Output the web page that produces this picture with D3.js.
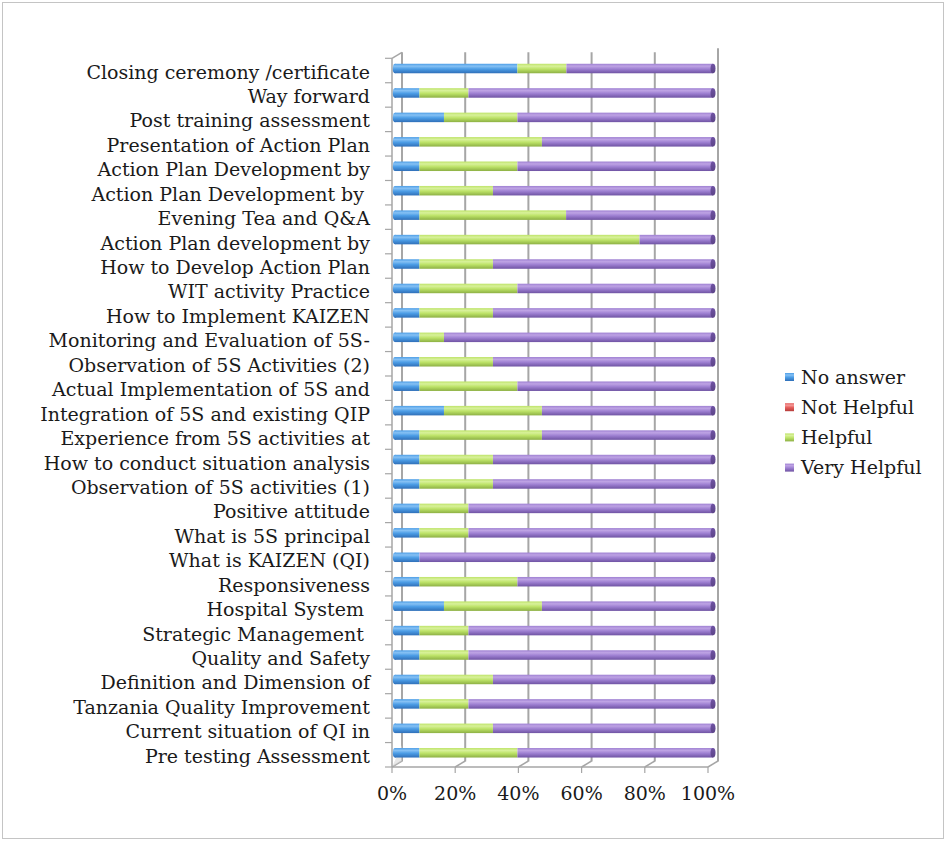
<!DOCTYPE html>
<html>
<head>
<meta charset="utf-8">
<script src="https://cdn.jsdelivr.net/npm/d3@7"></script>
<style>
  html, body { margin: 0; padding: 0; background: #fff; }
  svg { display: block; }
  text { font-family: "DejaVu Serif", "Liberation Serif", serif; fill: #1a1a1a; }
</style>
</head>
<body>
<svg id="chart" width="947" height="841"></svg>
<script>
// Categories, top to bottom as shown
const categories = [
  "Closing ceremony /certificate",
  "Way forward",
  "Post training assessment",
  "Presentation of Action Plan",
  "Action Plan Development by",
  "Action Plan Development by ",
  "Evening Tea and Q&A",
  "Action Plan development by",
  "How to Develop Action Plan",
  "WIT activity Practice",
  "How to Implement KAIZEN",
  "Monitoring and Evaluation of 5S-",
  "Observation of 5S Activities (2)",
  "Actual Implementation of 5S and",
  "Integration of 5S and existing QIP",
  "Experience from 5S activities at",
  "How to conduct situation analysis",
  "Observation of 5S activities (1)",
  "Positive attitude",
  "What is 5S principal",
  "What is KAIZEN (QI)",
  "Responsiveness",
  "Hospital System ",
  "Strategic Management ",
  "Quality and Safety",
  "Definition and Dimension of",
  "Tanzania Quality Improvement",
  "Current situation of QI in",
  "Pre testing Assessment"
];
// Series values (% of respondents), same order as categories
const noAnswer    = [38.5, 7.7, 15.4, 7.7, 7.7, 7.7, 7.7, 7.7, 7.7, 7.7, 7.7, 7.7, 7.7, 7.7, 15.4, 7.7, 7.7, 7.7, 7.7, 7.7, 7.7, 7.7, 15.4, 7.7, 7.7, 7.7, 7.7, 7.7, 7.7];
const notHelpful  = [0, 0, 0, 0, 0, 0, 0, 0, 0, 0, 0, 0, 0, 0, 0, 0, 0, 0, 0, 0, 0, 0, 0, 0, 0, 0, 0, 0, 0];
const helpful     = [15.4, 15.4, 23.1, 38.5, 30.8, 23.1, 46.1, 69.2, 23.1, 30.8, 23.1, 7.7, 23.1, 30.8, 30.8, 38.5, 23.1, 23.1, 15.4, 15.4, 0, 30.8, 30.8, 15.4, 15.4, 23.1, 15.4, 23.1, 30.8];
const veryHelpful = [46.1, 76.9, 61.5, 53.8, 61.5, 69.2, 46.2, 23.1, 69.2, 61.5, 69.2, 84.6, 69.2, 61.5, 53.8, 53.8, 69.2, 69.2, 76.9, 76.9, 92.3, 61.5, 53.8, 76.9, 76.9, 69.2, 76.9, 69.2, 61.5];
const seriesNames = ["No answer", "Not Helpful", "Helpful", "Very Helpful"];
const xTicks = [0, 20, 40, 60, 80, 100];
const tickLabels = ["0%", "20%", "40%", "60%", "80%", "100%"];

const seriesColors = {
  "No answer":    ["#86c1f4", "#4c9de6", "#2f6fb8"],
  "Not Helpful":  ["#f49a98", "#e45d5b", "#b43c3a"],
  "Helpful":      ["#d8f19a", "#bde368", "#8db044"],
  "Very Helpful": ["#bea3e4", "#9e80d2", "#6f53a3"]
};

const rows = categories.map((c, i) => ({
  cat: c,
  "No answer": noAnswer[i],
  "Not Helpful": notHelpful[i],
  "Helpful": helpful[i],
  "Very Helpful": veryHelpful[i]
}));

const svg = d3.select("#chart");
svg.append("rect").attr("x", 2.5).attr("y", 2.5).attr("width", 941).attr("height", 836)
  .attr("fill", "#fff").attr("stroke", "#c4c4c4").attr("stroke-width", 1);

const defs = svg.append("defs");
seriesNames.forEach((s, k) => {
  const g = defs.append("linearGradient").attr("id", "g" + k)
    .attr("x1", 0).attr("y1", 0).attr("x2", 0).attr("y2", 1);
  const c = seriesColors[s];
  g.append("stop").attr("offset", "0%").attr("stop-color", c[1]);
  g.append("stop").attr("offset", "25%").attr("stop-color", c[0]);
  g.append("stop").attr("offset", "55%").attr("stop-color", c[1]);
  g.append("stop").attr("offset", "100%").attr("stop-color", c[2]);
  const e = defs.append("linearGradient").attr("id", "e" + k)
    .attr("x1", 0).attr("y1", 0).attr("x2", 0).attr("y2", 1);
  e.append("stop").attr("offset", "0%").attr("stop-color", c[2]);
  e.append("stop").attr("offset", "100%").attr("stop-color", d3.color(c[2]).darker(0.5));
});

// geometry
const front = { left: 392, right: 708, top: 58.3, bottom: 767 };
const depth = { dx: 10, dy: -6 };
const fontSize = 19;

const y = d3.scaleBand().domain(categories).range([front.top, front.bottom]).paddingInner(0).paddingOuter(0);
const xFront = d3.scaleLinear().domain([0, 100]).range([front.left, front.right]);
const xBack = d3.scaleLinear().domain([0, 100]).range([front.left + depth.dx, front.right + depth.dx]);
const xBar = d3.scaleLinear().domain([0, 100]).range([front.left + 3, front.right + 5]);

const gridColor = "#a6a6a6";
// back wall gridlines
svg.append("g").selectAll("line").data(xTicks).join("line")
  .attr("x1", d => xBack(d)).attr("x2", d => xBack(d))
  .attr("y1", front.top + depth.dy).attr("y2", front.bottom + depth.dy + 0.5)
  .attr("stroke", gridColor).attr("stroke-width", 2);
// floor depth lines
svg.append("g").selectAll("line").data(xTicks).join("line")
  .attr("x1", d => xBack(d)).attr("x2", d => xFront(d))
  .attr("y1", front.bottom + depth.dy).attr("y2", front.bottom)
  .attr("stroke", gridColor).attr("stroke-width", 1.5);
// floor shadow near left
svg.append("path")
  .attr("d", `M${front.left},${front.bottom} L${front.left + depth.dx},${front.bottom + depth.dy} L${front.left + depth.dx},${front.bottom - 22} Z`)
  .attr("fill", "#d8d8d8").attr("opacity", 0.6);
// front floor line
svg.append("line").attr("x1", front.left).attr("x2", front.right)
  .attr("y1", front.bottom).attr("y2", front.bottom)
  .attr("stroke", gridColor).attr("stroke-width", 1.5);
// left wall
svg.append("line").attr("x1", front.left).attr("x2", front.left)
  .attr("y1", front.top).attr("y2", front.bottom)
  .attr("stroke", gridColor).attr("stroke-width", 1.5);
svg.append("line").attr("x1", front.left).attr("x2", front.left + depth.dx)
  .attr("y1", front.top).attr("y2", front.top + depth.dy)
  .attr("stroke", gridColor).attr("stroke-width", 1.5);

// bars
const stack = d3.stack().keys(seriesNames);
const stacked = stack(rows);
const barH = 9.5;
const barOff = -2;
const barsG = svg.append("g");
stacked.forEach((layer, k) => {
  const gl = barsG.append("g");
  const segs = layer.filter(d => d[1] - d[0] > 0);
  gl.selectAll("rect").data(segs).join("rect")
    .attr("x", d => xBar(d[0]))
    .attr("width", d => xBar(d[1]) - xBar(d[0]))
    .attr("y", d => y(d.data.cat) + y.bandwidth() / 2 + barOff - barH / 2)
    .attr("height", barH)
    .attr("fill", `url(#g${k})`);
});
// rounded left ends (first non-zero series)
barsG.append("g").selectAll("ellipse").data(rows).join("ellipse")
  .attr("cx", d => xBar(0))
  .attr("cy", d => y(d.cat) + y.bandwidth() / 2 + barOff)
  .attr("rx", 2.2).attr("ry", barH / 2)
  .attr("fill", d => `url(#g${seriesNames.findIndex(s => d[s] > 0)})`);
// right end caps (last series)
barsG.append("g").selectAll("ellipse").data(rows).join("ellipse")
  .attr("cx", d => xBar(100))
  .attr("cy", d => y(d.cat) + y.bandwidth() / 2 + barOff)
  .attr("rx", 2.5).attr("ry", barH / 2)
  .attr("fill", d => {
    let k = 3; while (k > 0 && d[seriesNames[k]] <= 0) k--;
    return `url(#e${k})`;
  });

// right back-wall edge
svg.append("line").attr("x1", xBack(100)).attr("x2", xBack(100))
  .attr("y1", front.top + depth.dy - 4).attr("y2", front.bottom + depth.dy)
  .attr("stroke", gridColor).attr("stroke-width", 2);

// Category axis ticks (band boundaries)
const bounds = categories.map(c => y(c)).concat([front.bottom]);
svg.append("g").selectAll("line").data(bounds).join("line")
  .attr("x1", front.left - 7).attr("x2", front.left)
  .attr("y1", d => d).attr("y2", d => d)
  .attr("stroke", gridColor).attr("stroke-width", 1.2);

// Category labels
svg.append("g").selectAll("text").data(categories).join("text")
  .attr("x", 370)
  .attr("y", d => y(d) + y.bandwidth() / 2 + 8)
  .attr("text-anchor", "end")
  .attr("font-size", fontSize)
  .style("white-space", "pre")
  .text(d => d);

// Value axis ticks and labels (front)
svg.append("g").selectAll("line").data(xTicks).join("line")
  .attr("x1", d => xFront(d)).attr("x2", d => xFront(d))
  .attr("y1", front.bottom).attr("y2", front.bottom + 6)
  .attr("stroke", gridColor).attr("stroke-width", 1.2);
svg.append("g").selectAll("text").data(xTicks).join("text")
  .attr("x", d => xFront(d))
  .attr("y", 800)
  .attr("text-anchor", "middle")
  .attr("font-size", fontSize)
  .text((d, i) => tickLabels[i]);

// Legend
const lg = svg.append("g").attr("transform", "translate(785,373)");
const li = lg.selectAll("g").data(seriesNames).join("g")
  .attr("transform", (d, i) => `translate(0,${i * 30.2})`);
li.append("rect").attr("width", 9).attr("height", 8)
  .attr("fill", (d, k) => `url(#g${k})`);
li.append("text").attr("x", 16).attr("y", 10.5).attr("font-size", fontSize).text(d => d);
</script>
</body>
</html>
